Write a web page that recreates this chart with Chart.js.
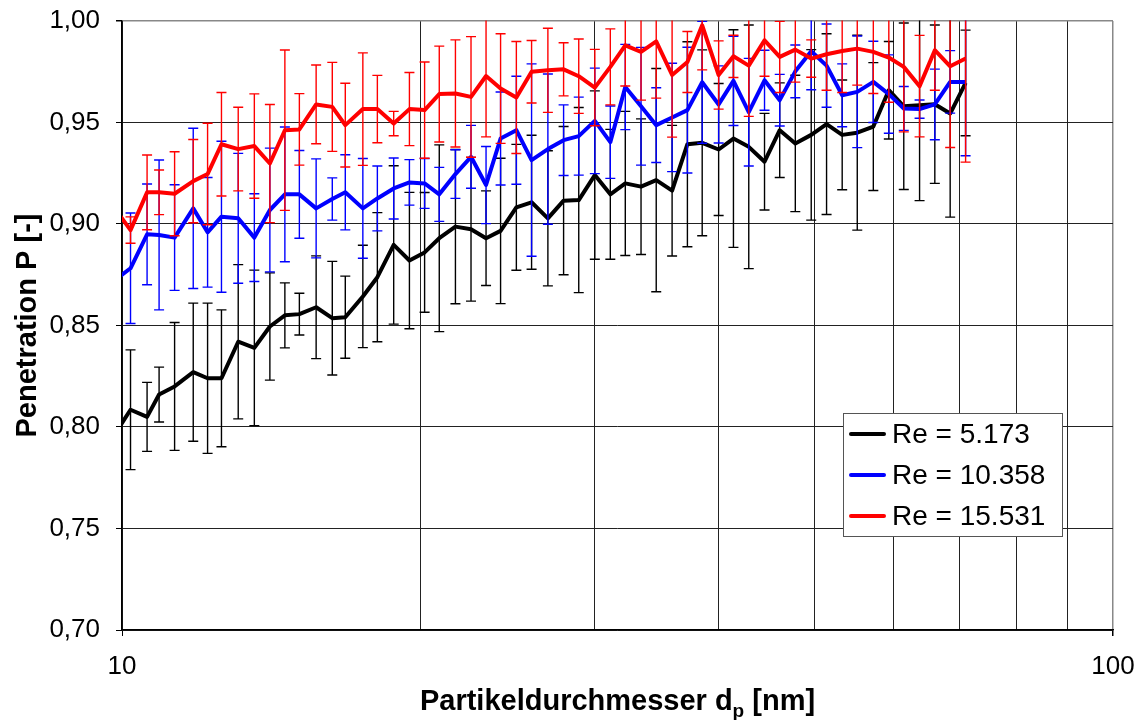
<!DOCTYPE html>
<html>
<head>
<meta charset="utf-8">
<script src="https://cdn.jsdelivr.net/npm/chart.js@4/dist/chart.umd.min.js"></script>
<style>
html,body{margin:0;padding:0;background:#fff;}
#wrap{width:1141px;height:720px;}
</style>
</head>
<body>
<div id="wrap"><canvas id="c" width="1141" height="720"></canvas></div>
<script>
// ---- data ----
const diameters = [9.82, 10.2, 10.6, 10.9, 11.3, 11.8, 12.2, 12.6, 13.1, 13.6, 14.1, 14.6, 15.1, 15.7, 16.3, 16.8, 17.5, 18.1, 18.8, 19.5, 20.2, 20.9, 21.7, 22.5, 23.3, 24.1, 25.0, 25.9, 26.9, 27.9, 28.9, 30.0, 31.1, 32.2, 33.4, 34.6, 35.9, 37.2, 38.5, 40.0, 41.4, 42.9, 44.5, 46.1, 47.8, 49.6, 51.4, 53.3, 55.2, 57.3, 59.4, 61.5, 63.8, 66.1, 68.5, 71.0];

const penRe5173 = [0.796, 0.8085, 0.805, 0.816, 0.820, 0.827, 0.824, 0.824, 0.842, 0.839, 0.8495, 0.855, 0.8556, 0.859, 0.8536, 0.8541, 0.8643, 0.8738, 0.8897, 0.882, 0.886, 0.893, 0.8987, 0.8974, 0.893, 0.8966, 0.9082, 0.9107, 0.9028, 0.9115, 0.9118, 0.9241, 0.9146, 0.920, 0.9184, 0.9216, 0.9164, 0.9393, 0.940, 0.9367, 0.9421, 0.938, 0.9307, 0.9462, 0.9397, 0.9439, 0.9492, 0.9439, 0.945, 0.948, 0.9659, 0.958, 0.9585, 0.959, 0.9544, 0.9695];
const errRe5173 = [0.03, 0.0295, 0.017, 0.0135, 0.0315, 0.034, 0.037, 0.0337, 0.038, 0.0383, 0.0264, 0.016, 0.0103, 0.0253, 0.028, 0.0202, 0.0252, 0.0318, 0.039, 0.0336, 0.0295, 0.046, 0.038, 0.0354, 0.0233, 0.0358, 0.031, 0.033, 0.0333, 0.0365, 0.0456, 0.0415, 0.032, 0.0355, 0.0334, 0.055, 0.0322, 0.0505, 0.0458, 0.0325, 0.0536, 0.06, 0.0238, 0.0233, 0.0336, 0.042, 0.0445, 0.027, 0.048, 0.0315, 0.024, 0.041, 0.047, 0.039, 0.051, 0.026];

const penRe10358 = [0.872, 0.8782, 0.8949, 0.8946, 0.8933, 0.9077, 0.8959, 0.9036, 0.9028, 0.8933, 0.9069, 0.9146, 0.9146, 0.9077, 0.9123, 0.9156, 0.9077, 0.9126, 0.9175, 0.9205, 0.920, 0.9146, 0.9246, 0.9331, 0.9192, 0.9421, 0.9462, 0.9315, 0.9369, 0.9413, 0.9433, 0.9508, 0.9403, 0.9675, 0.958, 0.9487, 0.9525, 0.9561, 0.9698, 0.9589, 0.9705, 0.9551, 0.9708, 0.961, 0.9752, 0.9851, 0.978, 0.9634, 0.9651, 0.970, 0.964, 0.9569, 0.9566, 0.9589, 0.970, 0.970];
const errRe10358 = [0.027, 0.0272, 0.0248, 0.0369, 0.026, 0.0395, 0.027, 0.0372, 0.032, 0.0216, 0.0305, 0.0332, 0.0216, 0.0244, 0.0104, 0.0185, 0.0246, 0.016, 0.015, 0.0112, 0.0123, 0.0133, 0.012, 0.0155, 0.019, 0.0229, 0.0266, 0.0474, 0.037, 0.0174, 0.0192, 0.026, 0.0178, 0.021, 0.029, 0.0184, 0.0267, 0.031, 0.030, 0.019, 0.022, 0.0265, 0.0148, 0.0127, 0.013, 0.019, 0.0205, 0.0155, 0.0275, 0.020, 0.0193, 0.0108, 0.0045, 0.0174, 0.0154, 0.0364];

const penRe15531 = [0.908, 0.897, 0.9156, 0.9156, 0.9149, 0.9211, 0.9246, 0.9393, 0.9369, 0.9384, 0.9298, 0.9462, 0.9466, 0.9589, 0.9577, 0.9487, 0.9566, 0.9566, 0.9495, 0.9566, 0.9561, 0.964, 0.9643, 0.9626, 0.9729, 0.9667, 0.9623, 0.975, 0.9757, 0.9762, 0.9728, 0.9672, 0.9774, 0.988, 0.9848, 0.990, 0.9734, 0.9798, 0.9979, 0.9734, 0.9826, 0.978, 0.9905, 0.9823, 0.9859, 0.9815, 0.9836, 0.9852, 0.9864, 0.9848, 0.982, 0.9774, 0.9679, 0.9856, 0.9777, 0.9815];
const errRe15531 = [0.012, 0.0065, 0.0184, 0.011, 0.0207, 0.0205, 0.025, 0.0255, 0.0206, 0.0257, 0.0291, 0.0395, 0.0176, 0.0194, 0.0219, 0.0206, 0.0277, 0.0166, 0.006, 0.018, 0.0237, 0.0236, 0.0264, 0.0297, 0.030, 0.027, 0.0276, 0.0154, 0.0207, 0.0131, 0.0183, 0.0188, 0.0187, 0.020, 0.0238, 0.028, 0.0306, 0.015, 0.022, 0.0168, 0.0104, 0.025, 0.0177, 0.0175, 0.016, 0.0092, 0.0177, 0.0204, 0.018, 0.0205, 0.022, 0.032, 0.025, 0.0197, 0.040, 0.051];

const seriesLabels = ['Re = 5.173', 'Re = 10.358', 'Re = 15.531'];
const seriesColors = ['#000000', '#0000ff', '#ff0000'];
const xGridValues = [10, 20, 30, 40, 50, 60, 70, 80, 90, 100];
const xTickLabels = [10, 100];
const xTitleMain = 'Partikeldurchmesser d';
const xTitleSub = 'p';
const xTitleEnd = ' [nm]';
const yTitle = 'Penetration P [-]';

// ---- build ----
const FONT = "'Liberation Sans', Arial, Helvetica, sans-serif";
const pens = [penRe5173, penRe10358, penRe15531];
const errs = [errRe5173, errRe10358, errRe15531];

const datasets = pens.map((arr, k) => ({
  label: seriesLabels[k],
  data: diameters.map((d, i) => ({x: d, y: arr[i]})),
  errors: errs[k],
  borderColor: seriesColors[k],
  backgroundColor: seriesColors[k],
  borderWidth: 4,
  pointRadius: 0,
  pointHoverRadius: 0,
  tension: 0,
  borderJoinStyle: 'round',
  order: 2 - k
}));

const errorBarPlugin = {
  id: 'errorBars',
  afterDatasetDraw(chart, args) {
    const ds = chart.data.datasets[args.index];
    const xs = chart.scales.x, ys = chart.scales.y;
    const a = chart.chartArea;
    const ctx = chart.ctx;
    ctx.save();
    ctx.beginPath();
    ctx.rect(a.left, a.top - 0.5, a.right - a.left, a.bottom - a.top + 1);
    ctx.clip();
    ctx.strokeStyle = ds.borderColor;
    ctx.lineWidth = 1.4;
    ds.data.forEach((p, i) => {
      const e = ds.errors[i];
      const x = xs.getPixelForValue(p.x);
      if (x < a.left - 0.5 || x > a.right + 0.5) return;
      const yt = ys.getPixelForValue(p.y + e);
      const yb = ys.getPixelForValue(p.y - e);
      ctx.beginPath();
      ctx.moveTo(x, yt); ctx.lineTo(x, yb);
      ctx.moveTo(x - 5, yt); ctx.lineTo(x + 5, yt);
      ctx.moveTo(x - 5, yb); ctx.lineTo(x + 5, yb);
      ctx.stroke();
    });
    ctx.restore();
  }
};

const decorPlugin = {
  id: 'decor',
  afterDraw(chart) {
    const ctx = chart.ctx;
    const a = chart.chartArea;
    ctx.save();
    // x-axis title with subscript
    const bigFont = "bold 29px " + FONT;
    const subFont = "bold 19px " + FONT;
    ctx.font = bigFont;
    const w1 = ctx.measureText(xTitleMain).width;
    const w3 = ctx.measureText(xTitleEnd).width;
    ctx.font = subFont;
    const w2 = ctx.measureText(xTitleSub).width;
    const total = w1 + w2 + w3;
    let x = (a.left + a.right) / 2 - total / 2;
    const base = 710;
    ctx.fillStyle = '#000';
    ctx.textBaseline = 'alphabetic';
    ctx.textAlign = 'left';
    ctx.font = bigFont; ctx.fillText(xTitleMain, x, base); x += w1;
    ctx.font = subFont; ctx.fillText(xTitleSub, x, base + 7); x += w2;
    ctx.font = bigFont; ctx.fillText(xTitleEnd, x, base);

    // legend
    const lx = 843, ly = 413, lw = 219, lh = 123;
    ctx.fillStyle = '#fff';
    ctx.fillRect(lx, ly, lw, lh);
    ctx.strokeStyle = '#555';
    ctx.lineWidth = 1;
    ctx.strokeRect(lx + 0.5, ly + 0.5, lw, lh);
    const rows = [434, 475, 516];
    ctx.font = "28px " + FONT;
    ctx.textBaseline = 'middle';
    seriesLabels.forEach((lab, k) => {
      ctx.strokeStyle = seriesColors[k];
      ctx.lineWidth = 4;
      ctx.lineCap = 'round';
      ctx.beginPath();
      ctx.moveTo(851, rows[k]); ctx.lineTo(884, rows[k]);
      ctx.stroke();
      ctx.fillStyle = '#000';
      ctx.fillText(lab, 892, rows[k] + 1);
    });
    ctx.restore();
  }
};

new Chart(document.getElementById('c'), {
  type: 'line',
  data: { datasets },
  plugins: [errorBarPlugin, decorPlugin],
  options: {
    responsive: false,
    animation: false,
    devicePixelRatio: 1,
    layout: { padding: { left: 0, top: 21, right: 28, bottom: 0 } },
    plugins: { legend: { display: false }, tooltip: { enabled: false } },
    events: [],
    scales: {
      x: {
        type: 'logarithmic',
        min: 10, max: 100,
        afterBuildTicks(scale) { scale.ticks = xGridValues.map(v => ({ value: v })); },
        afterFit(scale) { scale.height = 90; scale.paddingLeft = 0; scale.paddingRight = 0; },
        ticks: {
          autoSkip: false, maxRotation: 0, minRotation: 0,
          padding: 15,
          color: '#000',
          font: { family: FONT, size: 26 },
          callback: (v) => xTickLabels.includes(v) ? String(v) : ''
        },
        grid: {
          color: (c) => (c.tick && c.tick.value === 100) ? '#888' : '#222',
          lineWidth: (c) => (c.tick && c.tick.value === 100) ? 1.5 : 1,
          tickLength: 6,
          tickColor: (c) => (c.tick && xTickLabels.includes(c.tick.value)) ? '#000' : 'rgba(0,0,0,0)'
        },
        border: { color: '#000', width: 1.5 }
      },
      y: {
        type: 'linear',
        min: 0.7, max: 1.0,
        afterFit(scale) { scale.width = 122; scale.paddingTop = 0; scale.paddingBottom = 0; },
        ticks: {
          stepSize: 0.05,
          padding: 16,
          color: '#000',
          font: { family: FONT, size: 26 },
          callback: (v) => v.toFixed(2).replace('.', ',')
        },
        grid: {
          color: (c) => (c.tick && Math.abs(c.tick.value - 1) < 1e-6) ? '#888' : '#222',
          lineWidth: (c) => (c.tick && Math.abs(c.tick.value - 1) < 1e-6) ? 1.5 : 1,
          tickLength: 6,
          tickColor: '#000'
        },
        border: { color: '#000', width: 1.5 },
        title: {
          display: true,
          text: yTitle,
          color: '#000',
          font: { family: FONT, size: 29, weight: 'bold' },
          padding: { top: 11, bottom: 0 }
        }
      }
    }
  }
});
</script>
</body>
</html>
